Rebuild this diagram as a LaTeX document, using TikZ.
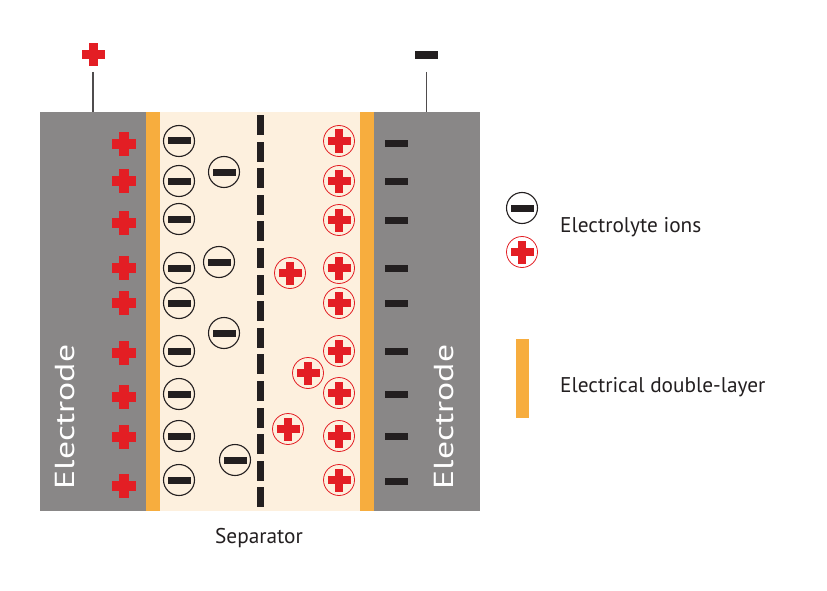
\documentclass[tikz,border=0pt]{standalone}
\usepackage{fontspec}
\setmainfont{PT Sans}
\definecolor{elgray}{HTML}{898787}
\definecolor{dlorange}{HTML}{F7AD3E}
\definecolor{elbeige}{HTML}{FDF0DE}
\definecolor{ionred}{HTML}{E31E24}
\definecolor{ink}{HTML}{231F20}
\newcommand{\redcross}[4]{%
  \fill[ionred] ({#1-#3},{#2-#4}) rectangle ({#1+#3},{#2+#4});
  \fill[ionred] ({#1-#4},{#2-#3}) rectangle ({#1+#4},{#2+#3});}
\newcommand{\blackbar}[4]{%
  \fill[ink] ({#1-#3},{#2-#4}) rectangle ({#1+#3},{#2+#4});}
\tikzset{
  anion/.style={circle, draw=ink, line width=1.1pt, fill=none, minimum size=31pt, inner sep=0pt},
  cation/.style={circle, draw=ionred, line width=0.8pt, fill=none, minimum size=31pt, inner sep=0pt},
  eltext/.style={rotate=90, text=white, font=\fontsize{27.5}{28}\selectfont, inner sep=0pt},
  legtext/.style={anchor=base west, text=ink, font=\fontsize{21.3}{24}\selectfont, inner sep=0pt},
  wire/.style={draw=ink!80, line width=1.2pt},
}
\begin{document}
\begin{tikzpicture}[x=1pt,y=-1pt]
\useasboundingbox[fill=white] (0,0) rectangle (827,591);
% regions
\fill[elbeige] (160,112) rectangle (360,511);
\node[fill=elgray, minimum width=106pt, minimum height=399pt, inner sep=0pt, anchor=north west] (elL) at (40,112) {};
\node[fill=elgray, minimum width=106pt, minimum height=399pt, inner sep=0pt, anchor=north west] (elR) at (374,112) {};
\fill[dlorange] (146,112) rectangle (160,511);
\fill[dlorange] (360,112) rectangle (374,511);
% separator
\foreach \k in {0,...,14} {\fill[ink] (256.5,{115+26.6*\k}) rectangle (263.5,{115+26.6*\k+20});}
% terminals
\coordinate (tL) at (93,72);
\coordinate (tR) at (426.5,72);
\draw[wire] (tL) -- (tL |- elL.north);
\draw[wire] (tR) -- (tR |- elR.north);
\redcross{93}{55}{11.5}{4.5}
\blackbar{426.5}{55}{11.5}{4}
% electrode charges
\foreach \y in {144,181,223,268,303,353,397,437,486} {\redcross{124}{\y}{12}{4.7}}
\foreach \y in {144,181,220,268,303,351,394,436,481} {\blackbar{396}{\y}{11.5}{3.5}}
% anions at left layer
\foreach \y [count=\i] in {141,181,219,268,303,351,394,436,480} {
  \node[anion] (aL\i) at (179,\y) {};
  \blackbar{179}{\y}{11.5}{3.5}
}
\foreach \x/\y [count=\i] in {224/172,219/262,224/333,235/460} {
  \node[anion] (aF\i) at (\x,\y) {};
  \blackbar{\x}{\y}{11.5}{3.5}
}
% cations at right layer
\foreach \y [count=\i] in {141,181,220,268,303,351,393,436,480} {
  \node[cation] (cR\i) at (339,\y) {};
  \redcross{339}{\y}{11.5}{4.3}
}
\foreach \x/\y [count=\i] in {290/273,308/373,288/429} {
  \node[cation] (cF\i) at (\x,\y) {};
  \redcross{\x}{\y}{11.5}{4.3}
}
% electrode labels
\node[eltext] (lblL) at (65,417) {\scalebox{1.3}[1]{Electrode}};
\node[eltext] (lblR) at (444,417) {\scalebox{1.3}[1]{Electrode}};
% separator label
\node[anchor=base, text=ink, font=\fontsize{21.3}{24}\selectfont, inner sep=0pt] (sep) at (259,543) {Separator};
% legend
\node[anion] (legA) at (522,208) {};
\blackbar{522}{208}{11.5}{3.5}
\node[cation] (legC) at (522,252) {};
\redcross{522}{252}{11.5}{4.3}
\node[legtext] (legIons) at (560,232) {Electrolyte ions};
\fill[dlorange] (516,339) rectangle (529,418);
\node[legtext] (legDL) at (560,392) {Electrical double-layer};
\end{tikzpicture}
\end{document}
